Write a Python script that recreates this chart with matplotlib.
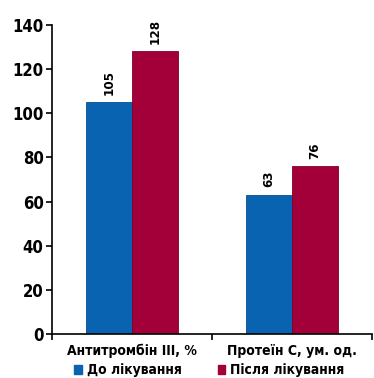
import numpy as np
import matplotlib.pyplot as plt
from matplotlib.patches import Patch

categories = ["Антитромбін III, %", "Протеїн С, ум. од."]
before = [105, 63]
after = [128, 76]
series_names = ["До лікування", "Після лікування"]
yticks = [0, 20, 40, 60, 80, 100, 120, 140]

blue = "#0a63b0"
red = "#a3003a"
plt.rcParams["font.family"] = ["DejaVu Sans"]
plt.rcParams["font.stretch"] = "condensed"
plt.rcParams["font.weight"] = "bold"

fig = plt.figure(figsize=(3.74, 3.78), dpi=100)
ax = fig.add_axes([0.139, 0.116, 0.856, 0.818])

x = np.arange(len(categories))
w = 0.2875
b1 = ax.bar(x - w / 2, before, w, color=blue, edgecolor="#0b4f8c", linewidth=0.6)
b2 = ax.bar(x + w / 2, after, w, color=red, edgecolor="#7d0030", linewidth=0.6)

# values above the bars, rotated
for bars in (b1, b2):
    for r in bars:
        ax.text(r.get_x() + r.get_width() / 2, r.get_height() + 3.5, str(int(r.get_height())),
                rotation=90, ha="center", va="bottom", fontsize=9.5, fontweight="bold")

ax.set_xlim(-0.5, 1.5)
ax.set_ylim(0, 140)
ax.set_yticks(yticks)
ax.set_xticks([-0.5, 0.5, 1.5])
ax.set_xticklabels([])
ax.tick_params(axis="y", labelsize=12, length=4, width=1.2, pad=2)
ax.tick_params(axis="x", length=4, width=1.2, direction="out")
for s in ["top", "right"]:
    ax.spines[s].set_visible(False)
for s in ["left", "bottom"]:
    ax.spines[s].set_linewidth(1.2)

for i, c in enumerate(categories):
    ax.text(x[i], -4.5, c, ha="center", va="top", fontsize=10, fontweight="bold")

handles = [Patch(color=blue), Patch(color=red)]
fig.legend(handles, series_names, loc="center", bbox_to_anchor=(0.56, 0.02), ncol=2,
           frameon=False, fontsize=10, handlelength=0.55, handleheight=0.55,
           handletextpad=0.35, columnspacing=2.6)

fig.savefig("out.png", dpi=100)
